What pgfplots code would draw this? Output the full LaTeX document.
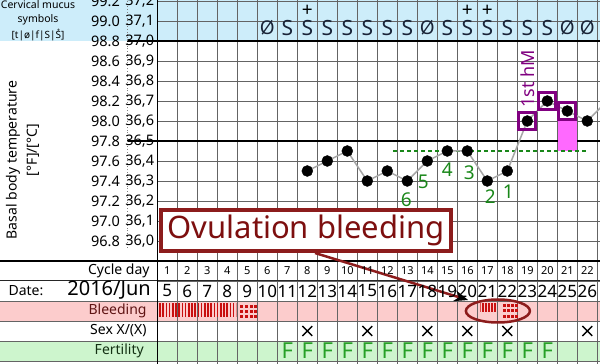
\documentclass[border=0pt]{standalone}
\usepackage{pgfplots}
\pgfplotsset{compat=1.18}
\usepackage{fontspec}
\setmainfont{Noto Sans}
\usetikzlibrary{arrows.meta,patterns.meta}
\definecolor{hdrblue}{RGB}{205,237,250}
\definecolor{bleedpink}{RGB}{252,204,204}
\definecolor{fertgreen}{RGB}{205,245,205}
\definecolor{gridc}{RGB}{100,100,100}
\definecolor{darkred}{RGB}{125,15,15}
\definecolor{boxred}{RGB}{140,28,28}
\definecolor{bleedred}{RGB}{200,15,15}
\definecolor{fgreen}{RGB}{40,160,40}
\definecolor{ngreen}{RGB}{25,135,25}
\definecolor{mpurple}{RGB}{128,0,128}
\definecolor{mpink}{RGB}{255,105,255}
\definecolor{ink}{RGB}{25,35,55}
\newcommand{\fs}[1]{\fontsize{#1}{#1}\selectfont}
\newcommand{\FC}[3]{%
  \node[anchor=east, font=\fs{14.5}, inner xsep=1pt] at (axis cs:-1.315,#3) {#1};
  \node[anchor=east, font=\fs{14.5}, inner xsep=1pt] at (axis cs:0.40,#3) {#2};}
\newcommand{\FCb}[3]{%
  \node[anchor=east, font=\bfseries\fs{14.5}, inner xsep=1pt] at (axis cs:-1.315,#3) {#1};
  \node[anchor=east, font=\bfseries\fs{14.5}, inner xsep=1pt] at (axis cs:0.40,#3) {#2};}

\begin{document}
\begin{tikzpicture}
\begin{axis}[
  set layers,
  scale only axis, width=442.7pt, height=364pt,
  xmin=0.5, xmax=22.635, ymin=35.385, ymax=37.205,
  clip=false,
  axis line style={draw=none},
  tick style={draw=none},
  xtick={0.5,1.5,...,22.5},
  ytick={35.4,35.5,35.6,35.7,35.8,35.9,36.0,36.1,36.2,36.3,36.4,36.5,36.6,36.7,36.8,36.9,37.0,37.1,37.2},
  xticklabels={}, yticklabels={},
  grid=major,
  grid style={gridc, line width=0.9pt},
]
% backgrounds
\addplot[on layer=axis background, fill=hdrblue, draw=none] coordinates {(-7.365,37.0) (22.635,37.0) (22.635,37.205) (-7.365,37.205)} -- cycle;
\addplot[on layer=axis background, fill=bleedpink, draw=none] coordinates {(-7.365,35.6) (22.635,35.6) (22.635,35.7) (-7.365,35.7)} -- cycle;
\addplot[on layer=axis background, fill=fertgreen, draw=none] coordinates {(-7.365,35.4) (22.635,35.4) (22.635,35.5) (-7.365,35.5)} -- cycle;

% full-width row lines
\draw[black, line width=1.4pt] (axis cs:-7.365,35.9) -- (axis cs:22.635,35.9);
\draw[black!85, line width=1pt] (axis cs:-7.365,35.8) -- (axis cs:22.635,35.8);
\draw[gridc, line width=0.8pt] (axis cs:-7.365,35.7) -- (axis cs:22.635,35.7);
\draw[gridc, line width=0.8pt] (axis cs:-7.365,35.6) -- (axis cs:22.635,35.6);
\draw[gridc, line width=0.8pt] (axis cs:-7.365,35.5) -- (axis cs:22.635,35.5);
\draw[gridc, line width=0.8pt] (axis cs:-7.365,35.4) -- (axis cs:22.635,35.4);
\draw[black, line width=1.6pt] (axis cs:-1.0,37.0) -- (axis cs:22.635,37.0);
\draw[black, line width=1.6pt] (axis cs:-1.0,36.5) -- (axis cs:22.635,36.5);
\draw[black, line width=1.2pt] (axis cs:0.5,35.385) -- (axis cs:0.5,37.205);
\draw[gray, line width=0.8pt, dotted] (axis cs:-1.0,35.965) -- (axis cs:-1.0,37.205);

% pink area under day 21
\addplot[fill=mpink, draw=none] coordinates {(20.55,36.45) (21.5,36.45) (21.5,36.6) (20.55,36.6)} -- cycle;
% coverline
\addplot[ngreen, line width=1.5pt, dash pattern=on 4pt off 3pt] coordinates {(12.3,36.45) (21.95,36.45)};
% temperature curve
\addplot[gray!70, line width=1.5pt] coordinates {
(8,36.35) (9,36.40) (10,36.45) (11,36.30) (12,36.35) (13,36.30) (14,36.40) (15,36.45)
(16,36.45) (17,36.30) (18,36.35) (19,36.60) (20,36.70) (21,36.65) (22,36.60) (23,36.70)};
\addplot[only marks, mark=*, mark size=5.5pt, black] coordinates {
(8,36.35) (9,36.40) (10,36.45) (11,36.30) (12,36.35) (13,36.30) (14,36.40) (15,36.45)
(16,36.45) (17,36.30) (18,36.35) (19,36.60) (20,36.70) (21,36.65) (22,36.60)};
\addplot[only marks, mark=square, mark size=8.5pt, mark options={line width=3pt, draw=mpurple}] coordinates {(19,36.60) (20,36.70) (21,36.65)};

% cervical mucus symbols
\addplot[only marks, mark=text, text mark={S}, text mark as node=true, text mark style={font=\fs{21}, text=ink}] coordinates {
(7,37.065) (8,37.065) (9,37.065) (10,37.065) (11,37.065) (12,37.065) (13,37.065)
(15,37.065) (16,37.065) (17,37.065) (18,37.065) (19,37.065) (20,37.065)};
\addplot[only marks, mark=text, text mark={Ø}, text mark as node=true, text mark style={font=\fs{19}, text=ink}] coordinates {
(6,37.065) (14,37.065) (21,37.065) (22,37.065)};
\addplot[only marks, mark=text, text mark={+}, text mark as node=true, text mark style={font=\bfseries\fs{19}, text=black}] coordinates {
(8,37.15) (16,37.15) (17,37.15)};

% sex
\addplot[only marks, mark=x, mark size=7pt, mark options={line width=1.4pt}, black] coordinates {
(8,35.55) (11,35.55) (14,35.55) (16,35.55) (18,35.55) (22,35.55)};
% fertility
\addplot[only marks, mark=text, text mark={F}, text mark as node=true, text mark style={font=\bfseries\fs{22}, text=fgreen}] coordinates {
(7,35.45) (8,35.45) (9,35.45) (10,35.45) (11,35.45) (12,35.45) (13,35.45)
(14,35.45) (15,35.45) (16,35.45) (17,35.45) (18,35.45) (19,35.45) (20,35.45)};

% bleeding
\addplot[draw=none, pattern={Lines[angle=90,distance=3.2pt,line width=1.6pt]}, pattern color=bleedred] coordinates {(0.55,35.62) (4.45,35.62) (4.45,35.685) (0.55,35.685)} -- cycle;
\addplot[only marks, mark=square*, mark size=1.1pt, bleedred] coordinates {
(4.7,35.675) (4.95,35.675) (5.2,35.675) (5.4,35.675)
(4.7,35.65) (4.95,35.65) (5.2,35.65) (5.4,35.65)
(4.7,35.625) (4.95,35.625) (5.2,35.625) (5.4,35.625)};
\addplot[draw=none, pattern={Lines[angle=90,distance=3pt,line width=1.3pt]}, pattern color=bleedred] coordinates {(16.65,35.645) (17.45,35.645) (17.45,35.685) (16.65,35.685)} -- cycle;
\addplot[only marks, mark=square*, mark size=1.1pt, bleedred] coordinates {
(17.85,35.677) (18.05,35.677) (18.25,35.677) (18.45,35.677)
(17.85,35.652) (18.05,35.652) (18.25,35.652) (18.45,35.652)
(17.85,35.625) (18.05,35.625) (18.25,35.625) (18.45,35.625)};
\draw[boxred, line width=2.5pt] (axis cs:17.53,35.65) ellipse [x radius=32pt, y radius=11.5pt];

% ovulation bleeding annotation
\draw[boxred, line width=2.5pt, -{Stealth[length=14pt,width=11pt,black]}] (axis cs:8.385,35.94) -- (axis cs:16.04,35.705);
\node[draw=boxred, line width=3.5pt, fill=white, text=darkred, font=\fs{31}, minimum width=290pt, minimum height=41pt, inner sep=0pt] at (axis cs:7.935,36.0525) {Ovulation bleeding};

% green counting numbers
\node[text=ngreen, font=\fs{19}] at (axis cs:12.95,36.205) {6};
\node[text=ngreen, font=\fs{19}] at (axis cs:13.8,36.295) {5};
\node[text=ngreen, font=\fs{19}] at (axis cs:15.0,36.355) {4};
\node[text=ngreen, font=\fs{19}] at (axis cs:16.1,36.34) {3};
\node[text=ngreen, font=\fs{19}] at (axis cs:17.15,36.22) {2};
\node[text=ngreen, font=\fs{19}] at (axis cs:18.05,36.245) {1};
\node[rotate=90, text=mpurple, font=\bfseries\fs{18}] at (axis cs:19.0,36.81) {1st hM};

% cycle day numbers and dates
\pgfplotsinvokeforeach{1,...,22}{
  \node[font=\fs{11}] at (axis cs:#1,35.85) {#1};
  \node[font=\fs{17}] at (axis cs:#1,35.75) {\the\numexpr#1+4\relax};
}

% left labels
\node[font=\fs{10.5}, inner sep=0pt] at (axis cs:-5.465,37.182) {Cervical mucus};
\node[font=\fs{10.5}, inner sep=0pt] at (axis cs:-5.465,37.105) {symbols};
\node[font=\fs{10}, inner sep=0pt] at (axis cs:-5.465,37.030) {[t|ø|f|S|\rlap{\raisebox{1.0ex}{\kern0.12em\fs{6}+}}S]};
\node[rotate=90, font=\fs{14}] at (axis cs:-6.715,36.405) {Basal body temperature};
\node[rotate=90, font=\fs{14}] at (axis cs:-5.715,36.455) {[°F]/[°C]};

\FC{99.2}{37,2}{37.2}
\FC{99.0}{37,1}{37.1}
\FCb{98.8}{37,0}{37.0}
\FC{98.6}{36,9}{36.9}
\FC{98.4}{36,8}{36.8}
\FC{98.2}{36,7}{36.7}
\FC{98.0}{36,6}{36.6}
\FCb{97.8}{36,5}{36.5}
\FC{97.6}{36,4}{36.4}
\FC{97.4}{36,3}{36.3}
\FC{97.2}{36,2}{36.2}
\FC{97.0}{36,1}{36.1}
\FC{96.8}{36,0}{36.0}

\node[anchor=east, font=\fs{14}] at (axis cs:0.29,35.85) {Cycle day};
\node[anchor=west, font=\fs{14}] at (axis cs:-7.115,35.75) {Date:};
\node[anchor=east, font=\fs{20}] at (axis cs:0.35,35.752) {2016/Jun};
\node[anchor=east, font=\fs{14}, text={rgb,255:red,95;green,20;blue,20}] at (axis cs:0.14,35.65) {Bleeding};
\node[anchor=east, font=\fs{14}] at (axis cs:0.14,35.55) {Sex X/(X)};
\node[anchor=east, font=\fs{14}, text={rgb,255:red,20;green,50;blue,20}] at (axis cs:0.0,35.45) {Fertility};

\coordinate (BL) at (axis cs:-7.365,35.385);
\coordinate (TR) at (axis cs:22.635,37.205);
\end{axis}
\pgfresetboundingbox
\path (BL) rectangle (TR);
\end{tikzpicture}
\end{document}
